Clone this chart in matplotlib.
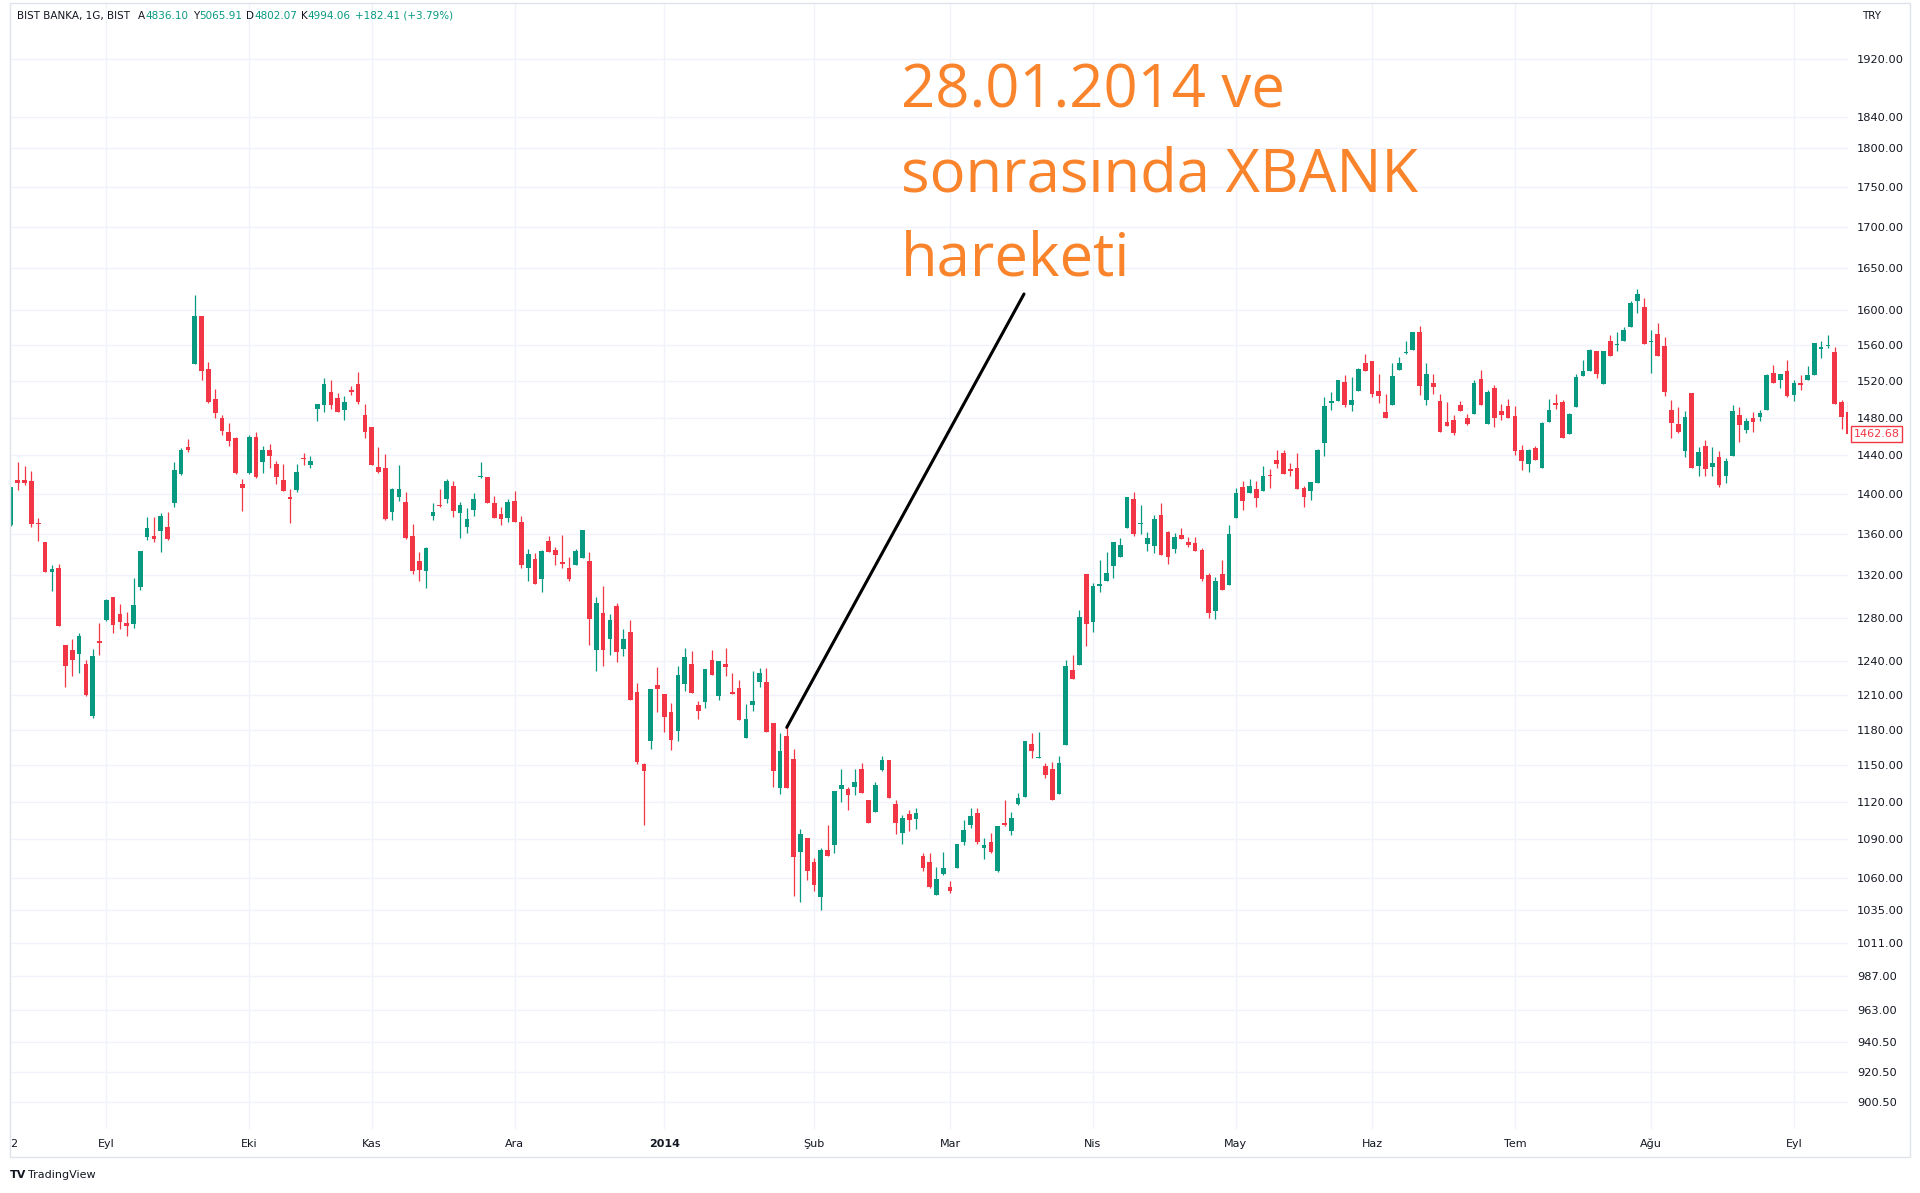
import matplotlib
matplotlib.use("Agg")
import matplotlib.pyplot as plt
from matplotlib.patches import Rectangle
import numpy as np

# daily OHLC bars, BIST BANKA, Aug 2013 - Sep 2014
opens = [
    1369, 1414, 1414, 1413, 1371, 1352, 1323, 1327, 1255, 1250,
    1247, 1238, 1192, 1258, 1278, 1299, 1283, 1275, 1274, 1309,
    1357, 1358, 1363, 1367, 1391, 1421, 1449, 1539, 1593, 1533,
    1500, 1479, 1464, 1458, 1410, 1422, 1459, 1433, 1446, 1431,
    1414, 1397, 1404, 1437, 1430, 1489, 1493, 1508, 1501, 1488,
    1510, 1516, 1483, 1470, 1428, 1427, 1382, 1397, 1392, 1358,
    1334, 1324, 1378, 1389, 1395, 1408, 1381, 1367, 1384, 1417,
    1417, 1391, 1380, 1376, 1393, 1372, 1327, 1336, 1316, 1353,
    1344, 1333, 1327, 1330, 1337, 1334, 1250, 1284, 1260, 1291,
    1251, 1267, 1213, 1151, 1170, 1219, 1211, 1195, 1179, 1220,
    1238, 1201, 1204, 1241, 1209, 1238, 1213, 1216, 1173, 1201,
    1222, 1222, 1186, 1131, 1175, 1155, 1080, 1091, 1072, 1045,
    1081, 1085, 1130, 1130, 1132, 1147, 1121, 1112, 1146, 1154,
    1118, 1095, 1110, 1106, 1077, 1072, 1047, 1063, 1053, 1067,
    1088, 1101, 1111, 1083, 1088, 1065, 1103, 1096,
    1118, 1124, 1168, 1156, 1149, 1147, 1126, 1167, 1232, 1237,
    1321, 1276, 1310, 1314, 1329, 1338, 1366, 1395, 1370, 1350,
    1348, 1379, 1362, 1345, 1359, 1352, 1351, 1344, 1320, 1286,
    1321, 1311, 1376, 1407, 1401, 1405, 1403, 1419, 1435, 1442,
    1426, 1427, 1406, 1403, 1411, 1453, 1496, 1498, 1519, 1494,
    1509, 1540, 1542, 1509, 1486, 1493, 1532, 1551, 1554, 1575,
    1499, 1517, 1498, 1475, 1477, 1494, 1480, 1484, 1522, 1473,
    1512, 1487, 1492, 1482, 1445, 1431, 1448, 1427, 1475, 1496,
    1497, 1462, 1491, 1525, 1531, 1553, 1516, 1564, 1560, 1565,
    1580, 1611, 1604, 1563, 1573, 1559, 1488, 1473, 1444, 1507,
    1429, 1450, 1428, 1438, 1419, 1439, 1483, 1467, 1479, 1481,
    1488, 1529, 1521, 1531, 1504, 1518, 1521, 1526, 1555, 1559,
    1552, 1497, 1486,
]
highs = [
    1407, 1433, 1429, 1424, 1376, 1352, 1330, 1331, 1255, 1260,
    1266, 1241, 1251, 1275, 1297, 1299, 1293, 1285, 1317, 1343,
    1377, 1377, 1381, 1382, 1433, 1448, 1457, 1618, 1593, 1541,
    1511, 1483, 1474, 1459, 1415, 1461, 1464, 1450, 1452, 1434,
    1431, 1405, 1431, 1442, 1439, 1495, 1523, 1521, 1507, 1503,
    1514, 1530, 1495, 1470, 1449, 1441, 1406, 1430, 1402, 1370,
    1342, 1347, 1391, 1405, 1415, 1413, 1392, 1386, 1401, 1433,
    1417, 1398, 1387, 1395, 1403, 1378, 1345, 1341, 1344, 1358,
    1347, 1359, 1338, 1345, 1364, 1342, 1299, 1310, 1283, 1294,
    1269, 1278, 1221, 1152, 1215, 1235, 1211, 1203, 1236, 1252,
    1249, 1205, 1233, 1250, 1240, 1252, 1230, 1223, 1202, 1231,
    1234, 1234, 1186, 1177, 1182, 1164, 1098, 1091, 1075, 1083,
    1101, 1129, 1147, 1132, 1147, 1152, 1121, 1136, 1158, 1154,
    1121, 1109, 1113, 1115, 1079, 1079, 1068, 1080, 1057, 1086,
    1105, 1115, 1115, 1091, 1095, 1100, 1121, 1112,
    1127, 1170, 1177, 1178, 1152, 1153, 1158, 1241, 1246, 1287,
    1321, 1313, 1335, 1342, 1352, 1356, 1397, 1402, 1389, 1362,
    1379, 1391, 1363, 1361, 1366, 1357, 1357, 1346, 1322, 1318,
    1335, 1369, 1406, 1413, 1415, 1413, 1429, 1426, 1446, 1445,
    1432, 1442, 1408, 1412, 1447, 1502, 1508, 1521, 1526, 1524,
    1534, 1550, 1542, 1528, 1505, 1540, 1546, 1564, 1575, 1582,
    1540, 1528, 1506, 1497, 1483, 1498, 1484, 1521, 1532, 1510,
    1515, 1495, 1500, 1492, 1451, 1447, 1450, 1475, 1500, 1505,
    1499, 1485, 1528, 1543, 1555, 1553, 1553, 1571, 1575, 1580,
    1611, 1625, 1614, 1577, 1585, 1569, 1499, 1491, 1487, 1507,
    1449, 1456, 1449, 1444, 1437, 1493, 1491, 1479, 1486, 1488,
    1527, 1538, 1527, 1543, 1521, 1526, 1536, 1562, 1564, 1571,
    1558, 1499, 1497,
]
lows = [
    1368, 1404, 1409, 1367, 1353, 1323, 1305, 1272, 1217, 1227,
    1230, 1209, 1190, 1246, 1277, 1266, 1269, 1263, 1270, 1306,
    1354, 1352, 1342, 1354, 1387, 1420, 1443, 1539, 1521, 1496,
    1479, 1461, 1450, 1421, 1383, 1421, 1416, 1422, 1427, 1410,
    1403, 1371, 1402, 1430, 1427, 1476, 1486, 1489, 1486, 1477,
    1504, 1495, 1458, 1430, 1422, 1374, 1374, 1393, 1355, 1321,
    1314, 1308, 1374, 1387, 1391, 1377, 1356, 1361, 1378, 1416,
    1391, 1376, 1369, 1372, 1372, 1327, 1314, 1312, 1304, 1342,
    1330, 1327, 1314, 1330, 1337, 1255, 1231, 1236, 1246, 1239,
    1245, 1206, 1151, 1101, 1164, 1195, 1178, 1163, 1170, 1214,
    1212, 1189, 1199, 1228, 1206, 1227, 1211, 1188, 1173, 1196,
    1217, 1178, 1132, 1126, 1131, 1046, 1041, 1058, 1050, 1035,
    1077, 1079, 1120, 1113, 1125, 1127, 1103, 1112, 1145, 1123,
    1094, 1086, 1096, 1098, 1065, 1052, 1047, 1062, 1048, 1067,
    1085, 1099, 1086, 1074, 1079, 1064, 1100, 1093,
    1117, 1124, 1156, 1156, 1139, 1121, 1126, 1167, 1224, 1237,
    1254, 1267, 1304, 1314, 1317, 1338, 1366, 1358, 1360, 1343,
    1341, 1339, 1331, 1341, 1355, 1347, 1343, 1314, 1280, 1279,
    1306, 1311, 1376, 1384, 1401, 1387, 1403, 1406, 1427, 1421,
    1419, 1405, 1387, 1394, 1411, 1439, 1488, 1498, 1491, 1487,
    1509, 1531, 1502, 1496, 1480, 1493, 1532, 1550, 1554, 1504,
    1493, 1506, 1465, 1471, 1461, 1487, 1472, 1484, 1494, 1473,
    1470, 1477, 1480, 1440, 1425, 1423, 1435, 1427, 1475, 1489,
    1458, 1462, 1491, 1525, 1531, 1523, 1516, 1548, 1553, 1565,
    1580, 1597, 1561, 1529, 1548, 1503, 1458, 1463, 1438, 1427,
    1419, 1418, 1418, 1407, 1411, 1439, 1454, 1463, 1465, 1476,
    1488, 1517, 1512, 1502, 1498, 1510, 1521, 1526, 1545, 1556,
    1495, 1468, 1462,
]
closes = [
    1407, 1411, 1411, 1370, 1370, 1323, 1326, 1272, 1236, 1241,
    1263, 1210, 1245, 1257, 1296, 1273, 1276, 1272, 1292, 1343,
    1366, 1355, 1378, 1355, 1425, 1446, 1446, 1593, 1531, 1497,
    1485, 1466, 1455, 1422, 1406, 1459, 1417, 1446, 1439, 1417,
    1403, 1395, 1423, 1436, 1434, 1495, 1516, 1493, 1486, 1497,
    1508, 1497, 1465, 1430, 1423, 1375, 1405, 1405, 1356, 1324,
    1325, 1346, 1382, 1388, 1413, 1383, 1389, 1375, 1395, 1419,
    1391, 1376, 1375, 1392, 1372, 1330, 1340, 1312, 1343, 1342,
    1339, 1331, 1316, 1343, 1364, 1279, 1294, 1250, 1278, 1248,
    1260, 1206, 1153, 1145, 1215, 1215, 1191, 1171, 1228, 1244,
    1212, 1196, 1233, 1228, 1240, 1235, 1211, 1188, 1189, 1205,
    1230, 1178, 1145, 1162, 1131, 1076, 1094, 1065, 1054, 1081,
    1077, 1129, 1134, 1125, 1136, 1127, 1103, 1134, 1154, 1123,
    1103, 1107, 1105, 1111, 1067, 1053, 1059, 1067, 1050, 1086,
    1097, 1108, 1088, 1085, 1080, 1100, 1101, 1107,
    1123, 1170, 1162, 1157, 1142, 1121, 1152, 1236, 1224, 1281,
    1274, 1310, 1311, 1322, 1352, 1349, 1397, 1360, 1371, 1356,
    1375, 1339, 1338, 1357, 1355, 1349, 1343, 1316, 1284, 1314,
    1306, 1360, 1401, 1393, 1408, 1396, 1418, 1418, 1431, 1421,
    1424, 1405, 1397, 1412, 1446, 1492, 1498, 1521, 1493, 1499,
    1533, 1531, 1505, 1503, 1480, 1525, 1540, 1552, 1575, 1514,
    1528, 1513, 1465, 1471, 1463, 1487, 1473, 1517, 1494, 1508,
    1479, 1483, 1480, 1444, 1434, 1446, 1435, 1474, 1488, 1494,
    1458, 1484, 1524, 1531, 1554, 1528, 1553, 1548, 1561, 1577,
    1608, 1619, 1561, 1565, 1548, 1508, 1474, 1465, 1481, 1427,
    1443, 1426, 1432, 1409, 1434, 1487, 1472, 1476, 1475, 1485,
    1526, 1517, 1527, 1503, 1517, 1515, 1526, 1562, 1558, 1560,
    1495, 1481, 1462.68,
]

month_pos = [14, 35, 53, 74, 96, 118, 138, 159, 180, 200, 221, 241, 262]
month_lbl = ["Eyl", "Eki", "Kas", "Ara", "2014", "Şub", "Mar", "Nis",
             "May", "Haz", "Tem", "Ağu", "Eyl"]
price_ticks = [900.5, 920.5, 940.5, 963, 987, 1011, 1035, 1060, 1090, 1120,
               1150, 1180, 1210, 1240, 1280, 1320, 1360, 1400, 1440, 1480,
               1520, 1560, 1600, 1650, 1700, 1750, 1800, 1840, 1920]
last_price = 1462.68
event_bar = 114  # 28.01.2014

UP = "#089981"
DOWN = "#f23645"
DARK = "#131722"
GRID = "#f0f3fa"

W, H = 1920, 1193
fig = plt.figure(figsize=(W / 100, H / 100), dpi=100)
fig.patch.set_facecolor("white")

ax = fig.add_axes([10 / W, 1 - 1129 / H, 1838 / W, 1126 / H])
ax.set_yscale("log")
ax.set_ylim(883.2, 1999.3)
ax.set_xlim(-0.15, 269.95)

o = np.array(opens, dtype=float)
h = np.array(highs, dtype=float)
l = np.array(lows, dtype=float)
c = np.array(closes, dtype=float)
x = np.arange(len(o))
cols = np.where(c >= o, UP, DOWN)

ax.vlines(x, l, h, colors=cols, linewidth=0.9, zorder=2)
bottom = np.minimum(o, c)
height = np.maximum(np.abs(c - o), 1.2)
ax.bar(x, height, bottom=bottom, width=0.69, color=cols, linewidth=0, zorder=3)

# axes styling
for s in ax.spines.values():
    s.set_visible(False)
ax.yaxis.tick_right()
ax.set_yticks(price_ticks)
ax.set_yticklabels([f"{p:.2f}" for p in price_ticks])
ax.minorticks_off()
ax.tick_params(axis="y", length=0, pad=6.5, labelsize=8.2, labelcolor=DARK)
ax.set_xticks(month_pos)
ax.set_xticklabels(month_lbl)
ax.tick_params(axis="x", length=0, pad=7, labelsize=8, labelcolor=DARK)
for lab in ax.get_xticklabels():
    if lab.get_text() == "2014":
        lab.set_fontweight("bold")
ax.grid(True, color=GRID, linewidth=1, zorder=0)
ax.set_axisbelow(True)

# last price tag
ax.text(1.003, last_price, f"{last_price:.2f}", transform=ax.get_yaxis_transform(),
        color=DOWN, fontsize=8, va="center", ha="left", clip_on=False,
        bbox=dict(boxstyle="square,pad=0.25", fc="white", ec=DOWN, lw=1))

# widget frame
fig.add_artist(Rectangle((10 / W, 1 - 1157 / H), 1900 / W, 1154 / H,
                         transform=fig.transFigure, fill=False,
                         ec="#e0e3eb", lw=1))

# header
prev = fig.text(17 / W, 1 - 16 / H, "BIST BANKA, 1G, BIST", fontsize=7.5,
                color=DARK, va="center", ha="left")
parts = [("A", DARK, 6), ("4836.10", UP, 0), ("Y", DARK, 3), ("5065.91", UP, 0),
         ("D", DARK, 3), ("4802.07", UP, 0), ("K", DARK, 3), ("4994.06", UP, 0),
         ("+182.41 (+3.79%)", UP, 3)]
for txt, col, gap in parts:
    prev = ax.annotate(txt, xy=(1, 0.5), xycoords=prev, xytext=(gap, 0),
                       textcoords="offset points", va="center", ha="left",
                       fontsize=7.5, color=col, annotation_clip=False)

fig.text(1862 / W, 1 - 16 / H, "TRY", fontsize=7.5, color=DARK, va="center")
fig.text(10 / W, 1 - 1144 / H, "2", fontsize=8, color=DARK, va="center")
fig.text(10 / W, 1 - 1175 / H, "TV", fontsize=8, color=DARK, va="center",
         fontweight="bold")
fig.text(28 / W, 1 - 1175 / H, "TradingView", fontsize=8, color=DARK, va="center")

# annotation
ORANGE = "#f9842c"
for txt, base in [("28.01.2014 ve", 108), ("sonrasında XBANK", 192), ("hareketi", 275)]:
    fig.text(901 / W, 1 - base / H, txt, fontsize=43, color=ORANGE,
             family=["Open Sans", "DejaVu Sans"], va="baseline", ha="left")
ax.annotate("", xy=(event_bar, highs[event_bar]), xycoords="data",
            xytext=(1024 / W, 1 - 294 / H), textcoords="figure fraction",
            arrowprops=dict(arrowstyle="-", color="black", lw=2.2,
                            shrinkA=0, shrinkB=0))

fig.savefig("out.png", dpi=100, facecolor="white")
